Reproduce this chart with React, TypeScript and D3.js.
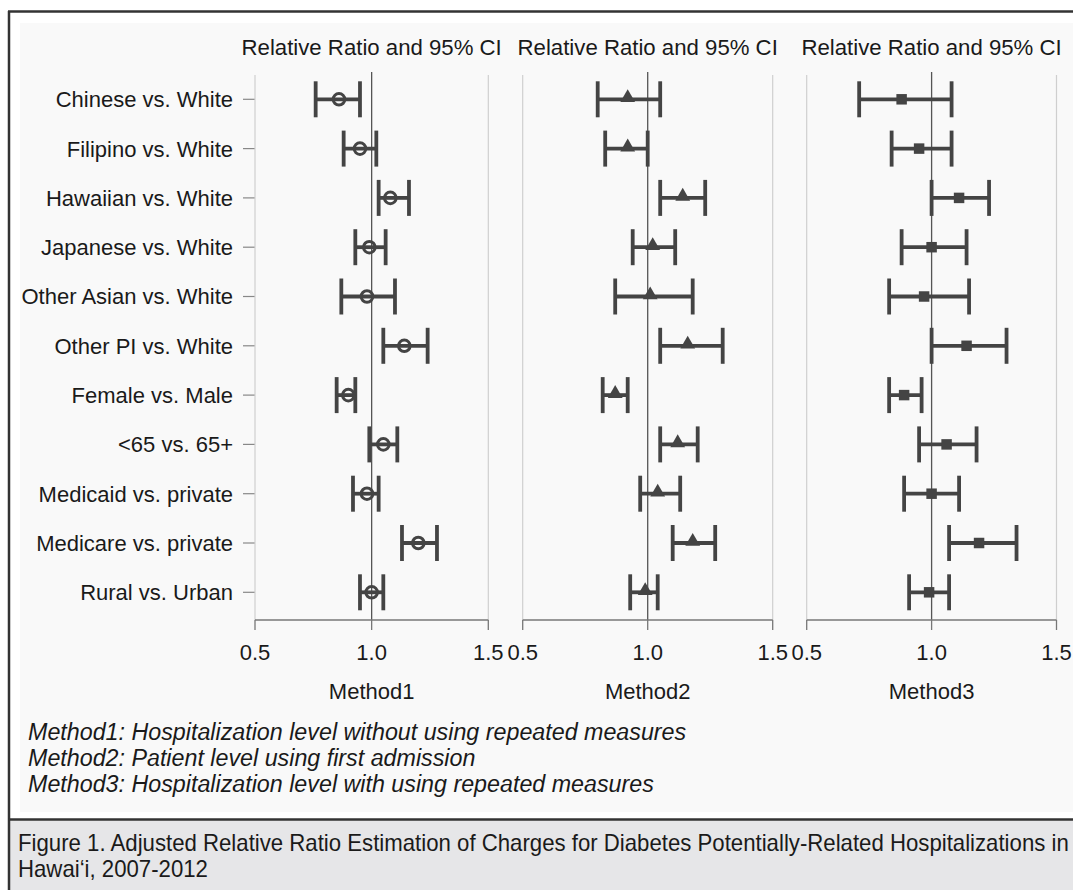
import React from "react";
import * as d3 from "d3";

const categories = [
  "Chinese vs. White",
  "Filipino vs. White",
  "Hawaiian vs. White",
  "Japanese vs. White",
  "Other Asian vs. White",
  "Other PI vs. White",
  "Female vs. Male",
  "<65 vs. 65+",
  "Medicaid vs. private",
  "Medicare vs. private",
  "Rural vs. Urban",
];

const methods = ["Method1", "Method2", "Method3"];

const method1Est = [0.86, 0.95, 1.08, 0.99, 0.98, 1.14, 0.9, 1.05, 0.98, 1.2, 1.0];
const method1Low = [0.76, 0.88, 1.03, 0.93, 0.87, 1.05, 0.85, 0.99, 0.92, 1.13, 0.95];
const method1High = [0.95, 1.02, 1.16, 1.06, 1.1, 1.24, 0.93, 1.11, 1.03, 1.28, 1.05];

const method2Est = [0.92, 0.92, 1.14, 1.02, 1.01, 1.16, 0.87, 1.12, 1.04, 1.18, 0.99];
const method2Low = [0.8, 0.83, 1.05, 0.94, 0.87, 1.05, 0.82, 1.05, 0.97, 1.1, 0.93];
const method2High = [1.05, 1.0, 1.23, 1.11, 1.18, 1.3, 0.92, 1.2, 1.13, 1.27, 1.04];

const method3Est = [0.88, 0.95, 1.11, 1.0, 0.97, 1.14, 0.89, 1.06, 1.0, 1.19, 0.99];
const method3Low = [0.71, 0.84, 1.0, 0.88, 0.83, 1.0, 0.83, 0.95, 0.89, 1.07, 0.91];
const method3High = [1.08, 1.08, 1.23, 1.14, 1.15, 1.3, 0.96, 1.18, 1.11, 1.34, 1.07];

const xTicks = [0.5, 1.0, 1.5];
const panelTitle = "Relative Ratio and 95% CI";
const footnotes = [
  "Method1: Hospitalization level without using repeated measures",
  "Method2: Patient level using first admission",
  "Method3: Hospitalization level with using repeated measures",
];
const captionLines = [
  "Figure 1. Adjusted Relative Ratio Estimation of Charges for Diabetes Potentially-Related Hospitalizations in",
  "Hawai\u2018i, 2007-2012",
];

const series = [
  { est: method1Est, low: method1Low, high: method1High, symbol: "circle" },
  { est: method2Est, low: method2Low, high: method2High, symbol: "triangle" },
  { est: method3Est, low: method3Low, high: method3High, symbol: "square" },
];

const panelRanges: [number, number][] = [
  [255, 488.3],
  [522.7, 772.7],
  [806.7, 1056.5],
];

const W = 1073;
const H = 890;
const FONT = "'Liberation Sans', Arial, Helvetica, sans-serif";
const INK = "#444";
const TEXT = "#1a1a1a";

export default function App() {
  const y = d3.scalePoint<string>().domain(categories).range([99.3, 592.3]);
  const axisY = 620;
  const gridTop = 75;
  const capHalf = 18;

  const triangle = d3.symbol().type(d3.symbolTriangle).size(95)() as string;
  const square = d3.symbol().type(d3.symbolSquare).size(110)() as string;

  return (
    <svg
      width={W}
      height={H}
      style={{ position: "absolute", left: 0, top: 0, display: "block" }}
      fontFamily={FONT}
    >
      <rect x={0} y={0} width={W} height={H} fill="#ffffff" />
      {/* plot background */}
      <rect x={20} y={23} width={W - 20} height={789} fill="#f9f9f9" />
      {/* caption background */}
      <rect x={8} y={820} width={W - 8} height={H - 820} fill="#e6e6e8" />
      {/* frame */}
      <line x1={9} y1={11} x2={9} y2={H} stroke="#333" strokeWidth={2.5} />
      <line x1={8} y1={11.5} x2={W} y2={11.5} stroke="#333" strokeWidth={2.5} />
      <line x1={8} y1={819.5} x2={W} y2={819.5} stroke="#333" strokeWidth={2.5} />

      {/* category labels and ticks */}
      {categories.map((c) => (
        <g key={c}>
          <text
            x={233}
            y={y(c)!}
            dy="0.36em"
            textAnchor="end"
            fontSize={22}
            fill={TEXT}
          >
            {c}
          </text>
          <line x1={243} x2={255} y1={y(c)!} y2={y(c)!} stroke="#888" strokeWidth={1.2} />
        </g>
      ))}

      {series.map((s, pi) => {
        const [x0, x1] = panelRanges[pi];
        const x = d3.scaleLinear().domain([0.5, 1.5]).range([x0, x1]);
        const cx = x(1.0);
        return (
          <g key={pi}>
            <text x={cx} y={47} dy="0.36em" textAnchor="middle" fontSize={22.2} fill={TEXT}>
              {panelTitle}
            </text>
            {/* grid lines at 0.5 and 1.5 */}
            {[0.5, 1.5].map((v) => (
              <line
                key={v}
                x1={x(v)}
                x2={x(v)}
                y1={gridTop}
                y2={axisY}
                stroke="#cfcfcf"
                strokeWidth={1.2}
              />
            ))}
            {/* reference line */}
            <line x1={cx} x2={cx} y1={72} y2={axisY} stroke="#555" strokeWidth={1.3} />
            {/* x axis */}
            <line x1={x0} x2={x1} y1={axisY} y2={axisY} stroke="#777" strokeWidth={1.3} />
            {xTicks.map((t) => (
              <g key={t}>
                <line x1={x(t)} x2={x(t)} y1={axisY} y2={axisY + 10} stroke="#777" strokeWidth={1.3} />
                <text x={x(t)} y={652} dy="0.36em" textAnchor="middle" fontSize={22} fill={TEXT}>
                  {t.toFixed(1)}
                </text>
              </g>
            ))}
            <text x={cx} y={691} dy="0.36em" textAnchor="middle" fontSize={22} fill={TEXT}>
              {methods[pi]}
            </text>

            {/* error bars */}
            {categories.map((c, i) => {
              const yy = y(c)!;
              const xl = x(s.low[i]);
              const xh = x(s.high[i]);
              const xe = x(s.est[i]);
              return (
                <g key={c}>
                  <line x1={xl} x2={xh} y1={yy} y2={yy} stroke={INK} strokeWidth={3.8} />
                  <line x1={xl} x2={xl} y1={yy - capHalf} y2={yy + capHalf} stroke={INK} strokeWidth={3.8} />
                  <line x1={xh} x2={xh} y1={yy - capHalf} y2={yy + capHalf} stroke={INK} strokeWidth={3.8} />
                  {s.symbol === "circle" && (
                    <circle cx={xe} cy={yy} r={5.8} fill="none" stroke={INK} strokeWidth={3} />
                  )}
                  {s.symbol === "triangle" && (
                    <path d={triangle} transform={`translate(${xe},${yy - 1.5})`} fill={INK} />
                  )}
                  {s.symbol === "square" && (
                    <path d={square} transform={`translate(${xe},${yy})`} fill={INK} />
                  )}
                </g>
              );
            })}
          </g>
        );
      })}

      {/* footnotes */}
      <g transform="translate(28,0) scale(0.97,1)">
        {footnotes.map((f, i) => (
          <text
            key={f}
            x={0}
            y={731 + i * 26}
            dy="0.36em"
            fontSize={24}
            fontStyle="italic"
            fill={TEXT}
          >
            {f}
          </text>
        ))}
      </g>

      {/* caption */}
      <g transform="translate(18,0) scale(0.965,1)">
        {captionLines.map((l, i) => (
          <text
            key={l}
            x={0}
            y={843 + i * 26}
            dy="0.36em"
            fontSize={23}
            fill={TEXT}
          >
            {l}
          </text>
        ))}
      </g>
    </svg>
  );
}
